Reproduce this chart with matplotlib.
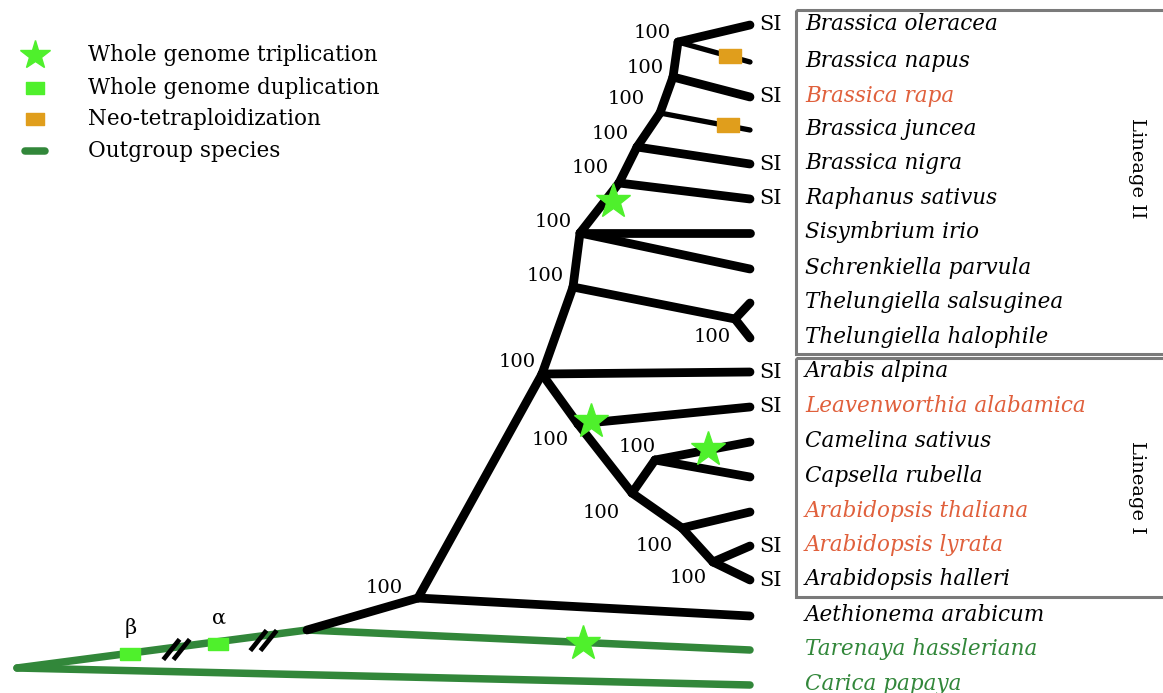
import numpy as np
from matplotlib import pyplot as plt
from matplotlib.path import Path
from matplotlib.patches import Rectangle

# species at the tips, top to bottom
species = ["Brassica oleracea", "Brassica napus", "Brassica rapa", "Brassica juncea",
           "Brassica nigra", "Raphanus sativus", "Sisymbrium irio", "Schrenkiella parvula",
           "Thelungiella salsuginea", "Thelungiella halophile", "Arabis alpina",
           "Leavenworthia alabamica", "Camelina sativus", "Capsella rubella",
           "Arabidopsis thaliana", "Arabidopsis lyrata", "Arabidopsis halleri",
           "Aethionema arabicum", "Tarenaya hassleriana", "Carica papaya"]
tip_y = [25, 62, 97, 130, 164, 199, 233, 269, 303, 338, 372, 407, 442, 477,
         512, 546, 580, 616, 650, 685]
tip_x = [750] * len(species)
self_incompat = ["Brassica oleracea", "Brassica rapa", "Brassica nigra", "Raphanus sativus",
                 "Arabis alpina", "Leavenworthia alabamica", "Arabidopsis lyrata",
                 "Arabidopsis halleri"]
red_names = ["Brassica rapa", "Leavenworthia alabamica", "Arabidopsis thaliana",
             "Arabidopsis lyrata"]
outgroup = ["Tarenaya hassleriana", "Carica papaya"]

# internal nodes (x, y)
nodes = {
    "root": (17, 668), "outg": (307, 630), "aeth": (418, 598), "core": (542, 374),
    "thel": (573, 287), "sis": (580, 233), "rap": (619, 183), "nig": (637, 147),
    "jun": (660, 113), "rapa": (673, 77), "ole": (678, 42), "thel2": (735, 319),
    "leav": (578, 424), "ara": (632, 493), "cc": (655, 460), "tha": (682, 528),
    "lyr": (713, 562),
}
# edges: parent -> child (child is a node or a species)
edges = [
    ("aeth", "core"), ("core", "thel"), ("thel", "sis"), ("sis", "rap"), ("rap", "nig"),
    ("nig", "jun"), ("jun", "rapa"), ("rapa", "ole"),
    ("ole", "Brassica oleracea"), ("ole", "Brassica napus"), ("rapa", "Brassica rapa"),
    ("jun", "Brassica juncea"), ("nig", "Brassica nigra"), ("rap", "Raphanus sativus"),
    ("sis", "Sisymbrium irio"), ("sis", "Schrenkiella parvula"), ("thel", "thel2"),
    ("thel2", "Thelungiella salsuginea"), ("thel2", "Thelungiella halophile"),
    ("core", "Arabis alpina"), ("core", "leav"), ("leav", "Leavenworthia alabamica"),
    ("leav", "ara"), ("ara", "cc"), ("cc", "Camelina sativus"), ("cc", "Capsella rubella"),
    ("ara", "tha"), ("tha", "Arabidopsis thaliana"), ("tha", "lyr"),
    ("lyr", "Arabidopsis lyrata"), ("lyr", "Arabidopsis halleri"),
    ("outg", "aeth"), ("aeth", "Aethionema arabicum"),
]
green_edges = [("root", "outg"), ("outg", "Tarenaya hassleriana"), ("root", "Carica papaya")]
thin_tips = ["Brassica napus", "Brassica juncea"]

# bootstrap support labels
support = [100] * 15
support_xy = [(652, 33), (645, 68), (626, 99), (610, 134), (590, 168), (553, 222),
              (545, 276), (517, 362), (550, 440), (637, 447), (601, 513), (654, 546),
              (688, 578), (712, 337), (384, 588)]

# polyploidy events
wgt_xy = [(613, 201), (591, 421), (708, 449), (583, 643)]
neo_xy = [(730, 56), (728, 125)]
wgd_xy = [(130, 654), (218, 644)]
wgd_names = ["β", "α"]
break_xy = [(176, 649), (263, 640)]

legend_labels = ["Whole genome triplication", "Whole genome duplication",
                 "Neo-tetraploidization", "Outgroup species"]

BLACK = "#000000"
DKGREEN = "#32873a"
LTGREEN = "#4ff02c"
ORANGE = "#e09e1c"
RED = "#e0603c"
SERIF = ["DejaVu Serif"]

pos = dict(nodes)
for name, x, y in zip(species, tip_x, tip_y):
    pos[name] = (x, y)

fig = plt.figure(figsize=(11.63, 6.93), dpi=100)
ax = fig.add_axes([0, 0, 1, 1])
ax.set_xlim(0, 1163)
ax.set_ylim(693, 0)
ax.axis("off")

for a, b in edges:
    (x0, y0), (x1, y1) = pos[a], pos[b]
    lw = 3.8 if b in thin_tips else 6.3
    ax.plot([x0, x1], [y0, y1], color=BLACK, lw=lw, solid_capstyle="round", zorder=2)
for a, b in green_edges:
    (x0, y0), (x1, y1) = pos[a], pos[b]
    ax.plot([x0, x1], [y0, y1], color=DKGREEN, lw=5.4, solid_capstyle="round", zorder=1)

# tip labels
for name, x, y in zip(species, tip_x, tip_y):
    col = RED if name in red_names else (DKGREEN if name in outgroup else BLACK)
    ax.text(x + 55, y + 5, name, fontsize=15.5, style="italic", color=col,
            family=SERIF, va="baseline", ha="left")
    if name in self_incompat:
        ax.text(x + 9, y, "SI", fontsize=15, family=SERIF, va="center", ha="left")

for val, (x, y) in zip(support, support_xy):
    ax.text(x, y, str(val), fontsize=14, family=SERIF, ha="center", va="center")

# lineage boxes
ax.add_patch(Rectangle((796, 10), 400, 344, fill=False, ec="#7a7a7a", lw=2.2, zorder=3))
ax.add_patch(Rectangle((796, 358), 400, 239, fill=False, ec="#7a7a7a", lw=2.2, zorder=3))
ax.text(1137, 168, "Lineage II", rotation=-90, fontsize=14, family=SERIF,
        ha="center", va="center")
ax.text(1137, 487, "Lineage I", rotation=-90, fontsize=14, family=SERIF,
        ha="center", va="center")

# events
rect = [(-1.6, -1), (1.6, -1), (1.6, 1), (-1.6, 1), (-1.6, -1)]
wx, wy = zip(*wgt_xy)
ax.plot(wx, wy, ls="none", marker="*", ms=26, color=LTGREEN, mec=LTGREEN, zorder=5)
nx, ny = zip(*neo_xy)
ax.plot(nx, ny, ls="none", marker=rect, ms=16, color=ORANGE, mec=ORANGE, zorder=5)
gx, gy = zip(*wgd_xy)
ax.plot(gx, gy, ls="none", marker=rect, ms=14, color=LTGREEN, mec=LTGREEN, zorder=5)
for name, (x, y) in zip(wgd_names, wgd_xy):
    ax.text(x + 1, y - 26, name, fontsize=15, family=SERIF, ha="center", va="center")

slash = Path([(-13, -10), (3, 10), (-3, -10), (13, 10)],
             [Path.MOVETO, Path.LINETO, Path.MOVETO, Path.LINETO])
bx, by = zip(*break_xy)
ax.plot(bx, by, ls="none", marker=slash, ms=19, mew=3.4, color=BLACK, zorder=5)

# legend
leg_x, leg_y = 35, [55, 88, 119, 151]
ax.plot(leg_x, leg_y[0], marker="*", ms=22, color=LTGREEN, mec=LTGREEN)
ax.plot(leg_x, leg_y[1], marker=rect, ms=13, color=LTGREEN, mec=LTGREEN)
ax.plot(leg_x, leg_y[2], marker=rect, ms=13, color=ORANGE, mec=ORANGE)
ax.plot([leg_x - 10, leg_x + 10], [leg_y[3], leg_y[3]], color=DKGREEN, lw=5.4,
        solid_capstyle="round")
for lab, y in zip(legend_labels, leg_y):
    ax.text(88, y, lab, fontsize=15.5, family=SERIF, va="center", ha="left")

fig.savefig("out.png", dpi=100)
